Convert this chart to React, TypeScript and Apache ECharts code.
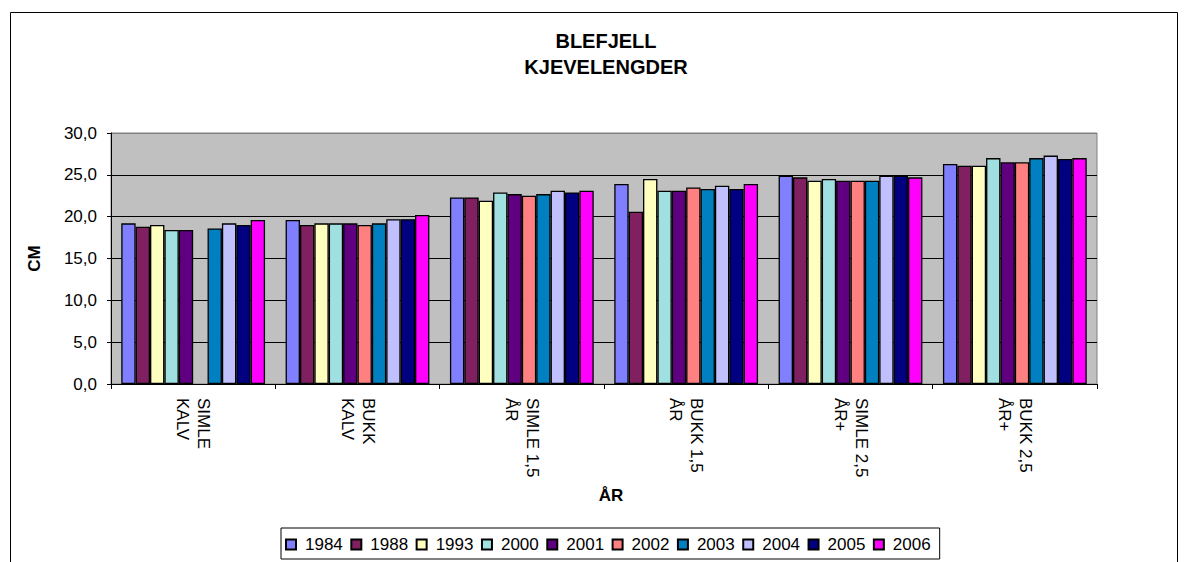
import React, { useEffect, useRef } from "react";
import * as echarts from "echarts";

const categories = [
  "SIMLE\nKALV",
  "BUKK\nKALV",
  "SIMLE 1,5\nÅR",
  "BUKK 1,5\nÅR",
  "SIMLE 2,5\nÅR+",
  "BUKK 2,5\nÅR+",
];

const years = ["1984", "1988", "1993", "2000", "2001", "2002", "2003", "2004", "2005", "2006"];

const v1984 = [19.2, 19.6, 22.3, 23.9, 24.9, 26.3];
const v1988 = [18.8, 19.0, 22.3, 20.6, 24.7, 26.1];
const v1993 = [19.0, 19.2, 21.9, 24.5, 24.3, 26.1];
const v2000 = [18.4, 19.2, 22.9, 23.1, 24.5, 27.0];
const v2001 = [18.4, 19.2, 22.7, 23.1, 24.3, 26.5];
const v2002 = [null, 19.0, 22.5, 23.5, 24.3, 26.5];
const v2003 = [18.6, 19.2, 22.7, 23.3, 24.3, 27.0];
const v2004 = [19.2, 19.7, 23.1, 23.7, 24.9, 27.3];
const v2005 = [19.0, 19.7, 22.9, 23.3, 24.9, 26.9];
const v2006 = [19.6, 20.2, 23.1, 23.9, 24.7, 27.0];

const seriesValues = [v1984, v1988, v1993, v2000, v2001, v2002, v2003, v2004, v2005, v2006];

const colors = [
  "#8080FF",
  "#802060",
  "#FFFFC0",
  "#A0E0E0",
  "#600080",
  "#FF8080",
  "#0080C0",
  "#C0C0FF",
  "#000080",
  "#FF00FF",
];

const FONT = "'Liberation Sans', Arial, sans-serif";

export default function App() {
  const ref = useRef<HTMLDivElement>(null);

  useEffect(() => {
    if (!ref.current) return;
    const chart = echarts.init(ref.current, null, { renderer: "svg" });
    const option = {
      animation: false,
      backgroundColor: "#fff",
      textStyle: { fontFamily: FONT, color: "#000" },
      title: {
        text: "BLEFJELL\nKJEVELENGDER",
        left: 606,
        top: 28,
        padding: 0,
        textAlign: "center",
        textStyle: {
          fontFamily: FONT,
          fontSize: 20,
          fontWeight: "bold",
          lineHeight: 26,
          color: "#000",
        },
      },
      graphic: [
        {
          type: "rect",
          shape: { x: 10.5, y: 12.5, width: 1167, height: 600 },
          style: { fill: "none", stroke: "#000", lineWidth: 1 },
          silent: true,
        },
      ],
      legend: {
        data: years,
        left: 281,
        top: 528,
        orient: "horizontal",
        itemWidth: 10,
        itemHeight: 10,
        itemGap: 7.5,
        icon: "rect",
        borderColor: "#000",
        borderWidth: 1,
        padding: [8, 9, 6, 4],
        textStyle: {
          fontFamily: FONT,
          fontSize: 17,
          color: "#000",
          padding: [0, 0, 0, 4],
        },
      },
      grid: {
        left: 111,
        right: 91,
        top: 133,
        bottom: 178,
        show: true,
        backgroundColor: "#C0C0C0",
        borderColor: "#808080",
        borderWidth: 1,
      },
      xAxis: {
        type: "category",
        data: categories,
        name: "ÅR",
        nameLocation: "middle",
        nameGap: 103,
        nameTextStyle: {
          fontFamily: FONT,
          fontSize: 17,
          fontWeight: "bold",
          color: "#000",
          padding: [0, 0, 0, 14],
        },
        axisLine: { show: true, lineStyle: { color: "#000", width: 1 } },
        axisTick: { show: true, length: 5, alignWithLabel: false, lineStyle: { color: "#000" } },
        axisLabel: {
          interval: 0,
          rotate: -90,
          margin: 14,
          fontFamily: FONT,
          fontSize: 17,
          lineHeight: 21,
          color: "#000",
        },
        splitLine: { show: false },
      },
      yAxis: {
        type: "value",
        min: 0,
        max: 30,
        interval: 5,
        name: "CM",
        nameLocation: "middle",
        nameRotate: 90,
        nameGap: 62,
        nameTextStyle: {
          fontFamily: FONT,
          fontSize: 17,
          fontWeight: "bold",
          color: "#000",
          padding: [0, 0, 6, 0],
        },
        axisLine: { show: true, lineStyle: { color: "#000", width: 1 } },
        axisTick: { show: true, length: 4, lineStyle: { color: "#000" } },
        axisLabel: {
          margin: 14,
          fontFamily: FONT,
          fontSize: 17,
          color: "#000",
          formatter: (v: number) => v.toFixed(1).replace(".", ","),
        },
        splitLine: {
          show: true,
          lineStyle: {
            color: ["#000", "#000", "#000", "#000", "#000", "#000", "#808080"],
            width: 1,
          },
        },
      },
      series: years.map((y, i) => ({
        name: y,
        type: "bar",
        data: seriesValues[i],
        barGap: "0%",
        barCategoryGap: "12.5%",
        itemStyle: {
          color: colors[i],
          borderColor: "#000",
          borderWidth: 1.3,
        },
      })),
    };
    chart.setOption(option as any);
    return () => {
      chart.dispose();
    };
  }, []);

  return (
    <div
      ref={ref}
      style={{
        position: "fixed",
        left: 0,
        top: 0,
        width: 1188,
        height: 562,
        background: "#fff",
      }}
    />
  );
}
